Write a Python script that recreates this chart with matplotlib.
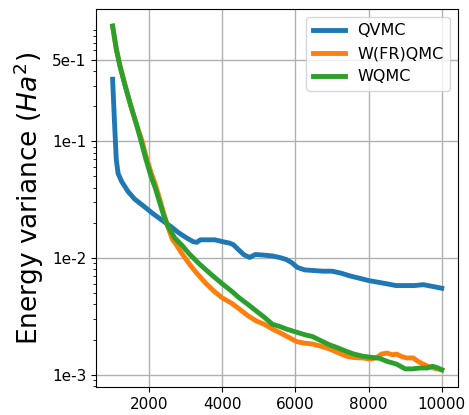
import matplotlib
matplotlib.use("Agg")
import matplotlib.pyplot as plt
from matplotlib.ticker import FixedLocator, FixedFormatter

# ---- data ----
qvmc_x = [1000, 1050, 1100, 1150, 1250, 1425, 1600, 1900, 2100, 2356, 2600, 2800,
          3000, 3200, 3300, 3400, 3600, 3800, 4000, 4200, 4300, 4450, 4600, 4750,
          4900, 5100, 5370, 5560, 5750, 5900, 6050, 6250, 6500, 6750, 7000, 7250,
          7500, 7750, 8000, 8250, 8500, 8750, 9000, 9250, 9500, 9750, 10000]
qvmc_y = [0.34, 0.15, 0.07, 0.053, 0.045, 0.037, 0.032, 0.027, 0.024, 0.021, 0.0185,
          0.0165, 0.015, 0.0138, 0.0136, 0.0143, 0.0143, 0.0143, 0.0138, 0.0134,
          0.0130, 0.0117, 0.0106, 0.0101, 0.0107, 0.0106, 0.0104, 0.0101, 0.0097,
          0.0091, 0.0083, 0.0079, 0.0078, 0.0077, 0.0077, 0.0074, 0.0070, 0.0067,
          0.0064, 0.0062, 0.0060, 0.0058, 0.0058, 0.0058, 0.0059, 0.0057, 0.0055]

wfr_x = [1000, 1100, 1200, 1342, 1500, 1650, 1800, 1900, 2050, 2164, 2300, 2400,
         2500, 2630, 2740, 2904, 3096, 3300, 3562, 3800, 4000, 4250, 4466, 4700,
         4932, 5150, 5370, 5560, 5750, 6027, 6250, 6466, 6700, 6932, 7150, 7397,
         7600, 7836, 8050, 8219, 8350, 8500, 8650, 8767, 8900, 9041, 9219, 9350,
         9493, 9650, 9767, 10000]
wfr_y = [0.97, 0.62, 0.45, 0.30, 0.20, 0.14, 0.102, 0.077, 0.054, 0.043, 0.031, 0.024,
         0.019, 0.0145, 0.0130, 0.0108, 0.0089, 0.0074, 0.0060, 0.0051, 0.00454,
         0.0041, 0.00365, 0.0032, 0.00288, 0.0027, 0.00246, 0.0023, 0.00214, 0.00192,
         0.00186, 0.00183, 0.00175, 0.00166, 0.00155, 0.00144, 0.0014, 0.00139,
         0.00136, 0.0014, 0.0015, 0.00153, 0.00148, 0.0015, 0.00143, 0.00139,
         0.00139, 0.0013, 0.00123, 0.00117, 0.00114, 0.0011]

wqmc_x = [1000, 1100, 1200, 1342, 1500, 1650, 1780, 1900, 2050, 2164, 2300, 2400,
          2500, 2700, 2900, 3100, 3370, 3700, 4000, 4250, 4466, 4700, 4932, 5150,
          5370, 5550, 5750, 6050, 6250, 6466, 6700, 6932, 7150, 7400, 7600, 7836,
          8050, 8300, 8500, 8767, 9000, 9200, 9400, 9600, 9753, 9900, 10000]
wqmc_y = [0.97, 0.62, 0.44, 0.30, 0.20, 0.14, 0.10, 0.072, 0.05, 0.040, 0.029, 0.023,
          0.019, 0.0148, 0.0128, 0.0108, 0.0089, 0.0072, 0.0060, 0.0052, 0.00454,
          0.0040, 0.0035, 0.0031, 0.0027, 0.0026, 0.00246, 0.00230, 0.0022, 0.00212,
          0.00195, 0.00180, 0.0017, 0.00158, 0.0015, 0.00144, 0.00141, 0.00138,
          0.0013, 0.00123, 0.00112, 0.00112, 0.00114, 0.00114, 0.00118, 0.00114,
          0.0011]

series_labels = ["QVMC", "W(FR)QMC", "WQMC"]
x_ticks = [2000, 4000, 6000, 8000, 10000]
y_ticks = [1e-3, 1e-2, 1e-1, 5e-1]
y_tick_labels = ["1e-3", "1e-2", "1e-1", "5e-1"]

fig = plt.figure(figsize=(4.69, 4.15), dpi=100)
ax = fig.add_axes([0.205, 0.0675, 0.772, 0.911])

ax.plot(qvmc_x, qvmc_y, color="#1f77b4", lw=3.5, label=series_labels[0])
ax.plot(wfr_x, wfr_y, color="#ff7f0e", lw=3.5, label=series_labels[1])
ax.plot(wqmc_x, wqmc_y, color="#2ca02c", lw=3.5, label=series_labels[2])

ax.set_yscale("log")
ax.yaxis.set_major_locator(FixedLocator(y_ticks))
ax.yaxis.set_major_formatter(FixedFormatter(y_tick_labels))
ax.set_xticks(x_ticks)
ax.tick_params(labelsize=11)
ax.grid(True, which="major", color="#b0b0b0", lw=1.0)
ax.set_ylabel("Energy variance ($Ha^2$)", fontsize=19)
ax.legend(loc="upper right", fontsize=11.5)

fig.savefig("out.png", dpi=100)
